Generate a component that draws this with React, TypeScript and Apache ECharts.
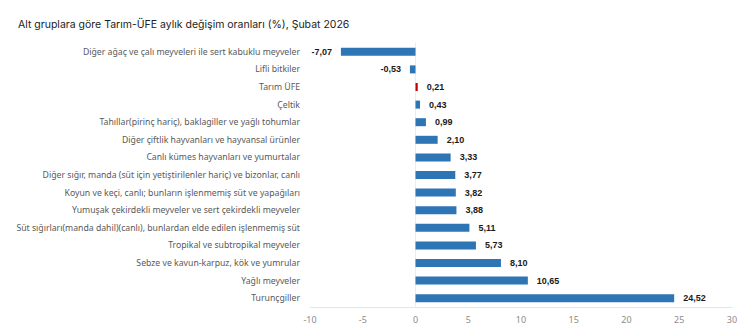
import React, { useEffect, useRef } from "react";
import * as echarts from "echarts";

const categories = [
  "Diğer ağaç ve çalı meyveleri ile sert kabuklu meyveler",
  "Lifli bitkiler",
  "Tarım ÜFE",
  "Çeltik",
  "Tahıllar(pirinç hariç), baklagiller ve yağlı tohumlar",
  "Diğer çiftlik hayvanları ve hayvansal ürünler",
  "Canlı kümes hayvanları ve yumurtalar",
  "Diğer sığır, manda (süt için yetiştirilenler hariç) ve bizonlar, canlı",
  "Koyun ve keçi, canlı; bunların işlenmemiş süt ve yapağıları",
  "Yumuşak çekirdekli meyveler ve sert çekirdekli meyveler",
  "Süt sığırları(manda dahil)(canlı), bunlardan elde edilen işlenmemiş süt",
  "Tropikal ve subtropikal meyveler",
  "Sebze ve kavun-karpuz, kök ve yumrular",
  "Yağlı meyveler",
  "Turunçgiller",
];

const values = [-7.07, -0.53, 0.21, 0.43, 0.99, 2.1, 3.33, 3.77, 3.82, 3.88, 5.11, 5.73, 8.1, 10.65, 24.52];

const highlightCategory = "Tarım ÜFE";

const xMin = -10;
const xMax = 30;
const xInterval = 5;

export default function App() {
  const ref = useRef<HTMLDivElement>(null);

  useEffect(() => {
    if (!ref.current) return;
    const chart = echarts.init(ref.current, undefined, { renderer: "svg" });
    const fmt = (v: number) => v.toFixed(2).replace(".", ",");
    chart.setOption({
      animation: false,
      backgroundColor: "#ffffff",
      title: {
        text: "Alt gruplara göre Tarım-ÜFE aylık değişim oranları (%), Şubat 2026",
        left: 13,
        top: 14,
        textStyle: {
          fontFamily: "Inter",
          fontSize: 10.5,
          fontWeight: "normal",
          color: "#222222",
        },
      },
      grid: { left: 310, right: 18, top: 43, bottom: 22, containLabel: false },
      xAxis: {
        type: "value",
        min: xMin,
        max: xMax,
        interval: xInterval,
        axisLine: { show: true, lineStyle: { color: "#e6e6e6" } },
        axisTick: { show: false },
        splitLine: { show: false },
        axisLabel: {
          color: "#8c8c8c",
          fontFamily: "Noto Sans",
          fontSize: 9,
          margin: 8,
        },
      },
      yAxis: {
        type: "category",
        data: categories,
        inverse: true,
        axisLine: { show: true, lineStyle: { color: "#ececec" } },
        axisTick: { show: false },
        axisLabel: {
          color: "#595959",
          fontFamily: "Noto Sans",
          fontSize: 8.7,
          margin: 10,
        },
      },
      series: [
        {
          type: "bar",
          barWidth: 8,
          data: values.map((v, i) => ({
            value: v,
            itemStyle: {
              color: categories[i] === highlightCategory ? "#c00000" : "#2e75b6",
            },
            label: {
              show: true,
              position: v < 0 ? "left" : "right",
              distance: 9,
              formatter: () => fmt(v),
              color: "#1a1a1a",
              fontWeight: "bold",
              fontFamily: "Liberation Sans",
              fontSize: 9,
            },
          })),
        },
      ],
    });
    return () => chart.dispose();
  }, []);

  return (
    <div
      ref={ref}
      style={{ position: "fixed", left: 0, top: 0, width: 750, height: 329 }}
    />
  );
}
